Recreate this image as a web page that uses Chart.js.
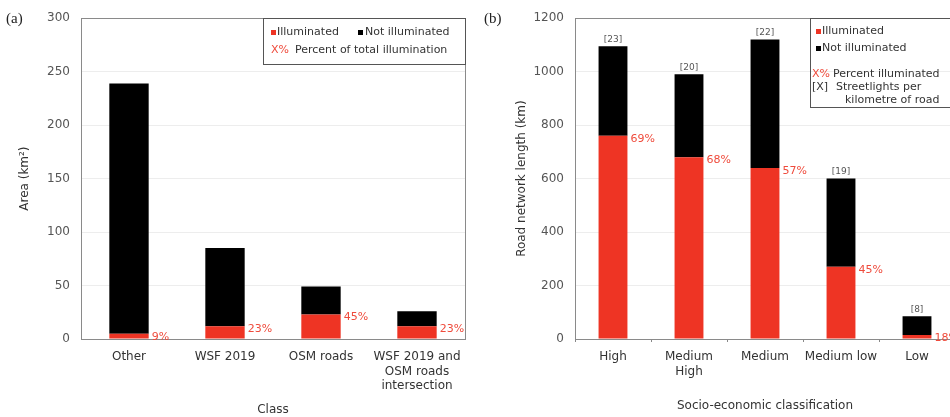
<!DOCTYPE html>
<html lang="en">
<head>
<meta charset="UTF-8">
<title>Illumination by class and socio-economic classification</title>
<script src="https://cdn.jsdelivr.net/npm/chart.js"></script>
<style>
  html, body { margin: 0; padding: 0; background: #fff; overflow: hidden; width: 950px; height: 417px; }
  .panel { position: absolute; top: 0; height: 417px; }
  #panelA { left: 0; width: 475px; }
  #panelB { left: 475px; width: 500px; }
</style>
</head>
<body>
<div class="panel" id="panelA"><canvas id="chartA"></canvas></div>
<div class="panel" id="panelB"><canvas id="chartB"></canvas></div>
<script>
// (a) area by class
const classLabels = ["Other", "WSF 2019", "OSM roads", ["WSF 2019 and", "OSM roads", "intersection"]];
const classIlluminated = [5, 12, 23, 12];
const classNotIlluminated = [234, 73, 26, 14];
const classPercent = ["9%", "23%", "45%", "23%"];
const areaTicks = [0, 50, 100, 150, 200, 250, 300];

// (b) road network by socio-economic classification
const socioLabels = ["High", ["Medium", "High"], "Medium", "Medium low", "Low"];
const roadIlluminated = [760, 680, 640, 270, 15];
const roadNotIlluminated = [335, 310, 480, 330, 70];
const roadPercent = ["69%", "68%", "57%", "45%", "18%"];
const streetlightsPerKm = ["[23]", "[20]", "[22]", "[19]", "[8]"];
const roadTicks = [0, 200, 400, 600, 800, 1000, 1200];

const RED = "#ee3424";
const RED_TEXT = "#ef4b3c";
const SANS = "'DejaVu Sans', Verdana, sans-serif";
const SERIF = "'Liberation Serif', 'Times New Roman', serif";

Chart.defaults.font.family = SANS;
Chart.defaults.font.size = 12;
Chart.defaults.color = "#444";
Chart.defaults.animation = false;

// box round the plot, labels on bars, panel tag and legend
const decorations = {
  id: "decorations",
  afterDatasetsDraw(chart, args, opts) {
    const ctx = chart.ctx;
    const a = chart.chartArea;
    ctx.save();
    ctx.strokeStyle = "#8a8a8a";
    ctx.lineWidth = 1;
    ctx.strokeRect(Math.round(a.left) + 0.5, Math.round(a.top) + 0.5, Math.round(a.right - a.left), Math.round(a.bottom - a.top));

    const y = chart.scales.y;
    const red = chart.getDatasetMeta(0).data;
    const black = chart.getDatasetMeta(1).data;
    const ill = chart.data.datasets[0].data;
    const not = chart.data.datasets[1].data;

    ctx.font = "11px " + SANS;
    ctx.textBaseline = "middle";
    ctx.textAlign = "left";
    ctx.fillStyle = RED_TEXT;
    opts.percent.forEach((t, i) => {
      const bar = red[i];
      ctx.fillText(t, bar.x + bar.width / 2 + 3, y.getPixelForValue(ill[i]) + 3);
    });

    if (opts.brackets) {
      ctx.fillStyle = "#555";
      ctx.font = "9px " + SANS;
      ctx.textAlign = "center";
      ctx.textBaseline = "bottom";
      opts.brackets.forEach((t, i) => {
        ctx.fillText(t, black[i].x, y.getPixelForValue(ill[i] + not[i]) - 2);
      });
    }

    ctx.fillStyle = "#222";
    ctx.font = "15px " + SERIF;
    ctx.textAlign = "left";
    ctx.textBaseline = "middle";
    ctx.fillText(opts.tag, opts.tagX, a.top + 1);

    opts.legend(ctx, a);
    ctx.restore();
  }
};

function legendA(ctx, a) {
  const x0 = 263, y0 = 18;
  ctx.strokeStyle = "#555";
  ctx.strokeRect(x0 + 0.5, y0 + 0.5, a.right - x0, 46);
  ctx.font = "11px " + SANS;
  ctx.textBaseline = "middle";
  ctx.fillStyle = RED;
  ctx.fillRect(x0 + 8, 30, 5, 5);
  ctx.fillStyle = "#333";
  ctx.fillText("Illuminated", x0 + 14, 32);
  ctx.fillStyle = "#000";
  ctx.fillRect(x0 + 95, 30, 5, 5);
  ctx.fillStyle = "#333";
  ctx.fillText("Not illuminated", x0 + 102, 32);
  ctx.fillStyle = RED_TEXT;
  ctx.fillText("X%", x0 + 8, 50);
  ctx.fillStyle = "#333";
  ctx.fillText("Percent of total illumination", x0 + 32, 50);
}

function legendB(ctx, a) {
  const x0 = 810 - 475, y0 = 18;
  ctx.strokeStyle = "#555";
  ctx.strokeRect(x0 + 0.5, y0 + 0.5, 160, 89);
  ctx.font = "11px " + SANS;
  ctx.textBaseline = "middle";
  ctx.fillStyle = RED;
  ctx.fillRect(x0 + 6, 29, 5, 5);
  ctx.fillStyle = "#333";
  ctx.fillText("Illuminated", x0 + 12, 31);
  ctx.fillStyle = "#000";
  ctx.fillRect(x0 + 6, 46, 5, 5);
  ctx.fillStyle = "#333";
  ctx.fillText("Not illuminated", x0 + 12, 48);
  ctx.fillStyle = RED_TEXT;
  ctx.fillText("X%", x0 + 2, 74);
  ctx.fillStyle = "#333";
  ctx.fillText("Percent illuminated", x0 + 23, 74);
  ctx.fillText("[X]", x0 + 2, 87);
  ctx.fillText("Streetlights per", x0 + 26, 87);
  ctx.fillText("kilometre of road", x0 + 35, 100);
}

function makeChart(id, o) {
  return new Chart(document.getElementById(id), {
    type: "bar",
    data: {
      labels: o.labels,
      datasets: [
        { label: "Illuminated", data: o.ill, backgroundColor: RED },
        { label: "Not illuminated", data: o.not, backgroundColor: "#000" }
      ]
    },
    options: {
      responsive: true,
      maintainAspectRatio: false,
      layout: { padding: { top: 16, right: o.padRight, bottom: 0, left: 0 } },
      datasets: { bar: { barPercentage: o.barPct, categoryPercentage: 1 } },
      plugins: {
        legend: { display: false },
        tooltip: { enabled: false },
        decorations: { percent: o.percent, brackets: o.brackets, tag: o.tag, tagX: o.tagX, legend: o.legend }
      },
      scales: {
        x: {
          stacked: true,
          grid: { display: true, drawOnChartArea: false, offset: true, tickLength: o.xTick, color: "#888" },
          border: { color: "#8a8a8a" },
          ticks: { padding: 11 - o.xTick, maxRotation: 0, autoSkip: false, color: "#333", font: { size: 12, lineHeight: 1.2 } },
          title: { display: true, text: o.xTitle, color: "#333", font: { size: 12 }, padding: { top: 0, bottom: o.xTitleBottom } },
          afterFit(s) { s.height = 78; }
        },
        y: {
          stacked: true,
          min: 0,
          max: o.ticks[o.ticks.length - 1],
          afterBuildTicks(s) { s.ticks = o.ticks.map(v => ({ value: v })); },
          grid: { color: "rgba(0,0,0,0.07)", drawTicks: false },
          border: { color: "#8a8a8a" },
          ticks: { padding: 11, color: "#555", font: { size: 12 }, callback: v => String(v) },
          title: { display: true, text: o.yTitle, color: "#333", font: { size: 12 }, padding: { top: o.yTitlePad, bottom: 0 } },
          afterFit(s) { s.width = o.yWidth; }
        }
      }
    },
    plugins: [decorations]
  });
}

makeChart("chartA", {
  labels: classLabels, ill: classIlluminated, not: classNotIlluminated,
  percent: classPercent, brackets: null, ticks: areaTicks,
  barPct: 0.41, padRight: 10, yWidth: 81, xTick: 0, xTitleBottom: 0, yTitlePad: 18,
  xTitle: "Class", yTitle: "Area (km²)", tag: "(a)", tagX: 6, legend: legendA
});

makeChart("chartB", {
  labels: socioLabels, ill: roadIlluminated, not: roadNotIlluminated,
  percent: roadPercent, brackets: streetlightsPerKm, ticks: roadTicks,
  barPct: 0.38, padRight: 20, yWidth: 100, xTick: 3, xTitleBottom: 4, yTitlePad: 40,
  xTitle: "Socio-economic classification", yTitle: "Road network length (km)", tag: "(b)", tagX: 9, legend: legendB
});
</script>
</body>
</html>
